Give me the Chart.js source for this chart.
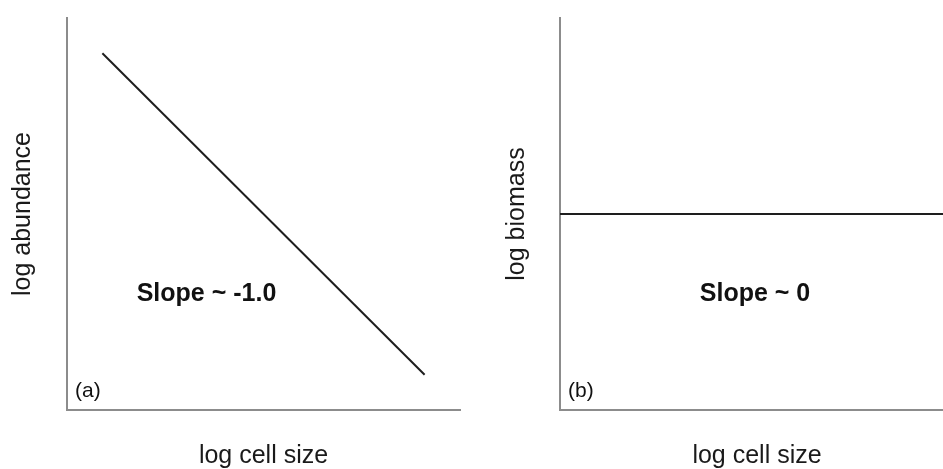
<!DOCTYPE html>
<html>
<head>
<meta charset="utf-8">
<script src="https://cdn.jsdelivr.net/npm/chart.js@4.4.1/dist/chart.umd.min.js"></script>
<style>
  html, body { margin: 0; padding: 0; background: #fff; }
  body { width: 943px; height: 469px; position: relative; overflow: hidden; }
  .panel { position: absolute; top: 0; height: 469px; }
  #panelA { left: 0; width: 470px; }
  #panelB { left: 494px; width: 460px; }
</style>
</head>
<body>
<div class="panel" id="panelA"><canvas id="chartA"></canvas></div>
<div class="panel" id="panelB"><canvas id="chartB"></canvas></div>
<script>
// values (arbitrary log units, axes 0..10)
const cellSizeA = [0.9, 9.1];
const abundanceA = [9.1, 0.9];
const cellSizeB = [0, 10];
const biomassB = [5, 5];

const xTitle = 'log cell size';
const yTitles = ['log abundance', 'log biomass'];
const slopeLabels = ['Slope ~ -1.0', 'Slope ~ 0'];
const panelTags = ['(a)', '(b)'];

const FONT = '"Liberation Sans", Arial, Helvetica, sans-serif';
Chart.defaults.font.family = FONT;
Chart.defaults.color = '#1a1a1a';

// slope note + panel letter
const panelText = {
    id: 'panelText',
    afterDatasetsDraw(chart, args, opts) {
        const { ctx, chartArea, scales } = chart;
        ctx.save();
        ctx.fillStyle = '#111';
        ctx.font = 'bold 25px ' + FONT;
        ctx.textAlign = 'center';
        ctx.textBaseline = 'middle';
        ctx.fillText(opts.slope, scales.x.getPixelForValue(opts.at[0]), scales.y.getPixelForValue(opts.at[1]));
        ctx.font = '21px ' + FONT;
        ctx.textAlign = 'left';
        ctx.fillText(opts.tag, chartArea.left + 8, chartArea.bottom - 19);
        ctx.restore();
    }
};

function makePanel(id, xs, ys, yTitle, slope, tag, noteAt, yWidth, padRight) {
    const axisBorder = { display: true, color: '#8c8c8c', width: 2 };
    return new Chart(document.getElementById(id), {
        type: 'line',
        data: {
            datasets: [{
                data: xs.map((x, i) => ({ x: x, y: ys[i] })),
                borderColor: '#1e1e1e',
                borderWidth: 2,
                pointRadius: 0,
                fill: false,
                tension: 0
            }]
        },
        options: {
            responsive: true,
            maintainAspectRatio: false,
            animation: false,
            layout: { padding: { top: 18, right: padRight, left: 0, bottom: 0 } },
            plugins: {
                legend: { display: false },
                tooltip: { enabled: false },
                panelText: { slope: slope, tag: tag, at: noteAt }
            },
            scales: {
                x: {
                    type: 'linear', min: 0, max: 10,
                    grid: { display: false },
                    border: axisBorder,
                    ticks: { display: false },
                    title: { display: true, text: xTitle, font: { size: 25, lineHeight: 1 }, padding: { top: 0, bottom: 0 } },
                    afterFit: s => { s.height = 59; }
                },
                y: {
                    type: 'linear', min: 0, max: 10,
                    grid: { display: false },
                    border: axisBorder,
                    ticks: { display: false },
                    title: { display: true, text: yTitle, font: { size: 25, lineHeight: 1 }, padding: { top: 10.5, bottom: 0 } },
                    afterFit: s => { s.width = yWidth; }
                }
            }
        },
        plugins: [panelText]
    });
}

makePanel('chartA', cellSizeA, abundanceA, yTitles[0], slopeLabels[0], panelTags[0], [3.55, 2.95], 67, 10);
makePanel('chartB', cellSizeB, biomassB, yTitles[1], slopeLabels[1], panelTags[1], [4.95, 2.95], 66, 0);
</script>
</body>
</html>
